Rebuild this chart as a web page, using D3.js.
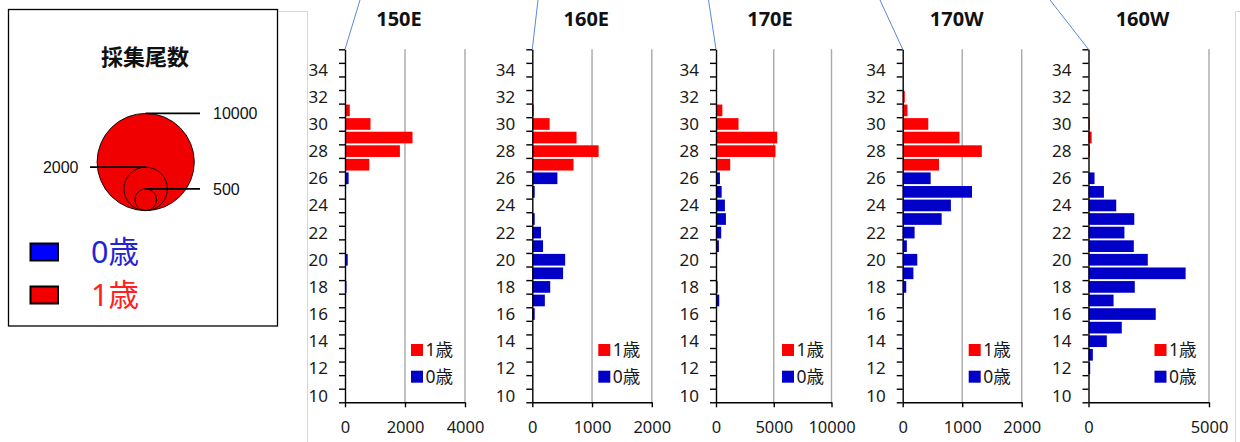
<!DOCTYPE html>
<html>
<head>
<meta charset="utf-8">
<script src="https://cdn.jsdelivr.net/npm/d3@7"></script>
<style>
  html, body { margin: 0; padding: 0; background: #fff; }
  svg { display: block; }
</style>
</head>
<body>
<svg id="chart" width="1240" height="442"></svg>
<script>
// Latitude classes (degrees N), bottom to top
const latitudes = [10,11,12,13,14,15,16,17,18,19,20,21,22,23,24,25,26,27,28,29,30,31,32,33,34,35];
const latitudeLabels = [10,12,14,16,18,20,22,24,26,28,30,32,34];

// Panel titles (longitude lines)
const panelNames = ['150E', '160E', '170E', '170W', '160W'];

// Catch counts per latitude class: age 0 and age 1
const age0_150E = [0,0,0,0,20,20,20,20,50,15,90,15,20,0,0,0,120,0,0,0,0,0,0,0,0,0];
const age1_150E = [0,0,0,0,0,0,0,0,0,0,0,0,0,0,0,0,0,810,1830,2250,850,160,0,0,0,0];

const age0_160E = [0,0,0,0,0,0,40,210,300,515,550,180,145,40,0,40,420,0,0,0,0,0,0,0,0,0];
const age1_160E = [0,0,0,0,0,0,0,0,0,0,0,0,0,0,0,0,0,690,1110,740,290,25,10,0,0,0];

const age0_170E = [0,0,0,0,0,60,60,280,140,60,60,250,450,860,770,490,340,0,0,0,0,0,0,0,0,0];
const age1_170E = [0,0,0,0,0,0,0,0,0,0,0,0,0,0,0,0,0,1230,5150,5300,1950,550,80,0,0,0];

const age0_170W = [0,0,0,10,10,10,0,10,60,180,245,70,200,655,810,1165,470,0,0,0,0,0,0,0,0,0];
const age1_170W = [0,0,0,0,0,0,0,0,0,0,0,0,0,0,0,0,0,610,1330,955,430,80,35,0,0,0];

const age0_160W = [0,0,70,180,760,1380,2790,1040,1920,4030,2460,1880,1490,1900,1150,640,250,0,0,0,0,0,0,0,0,0];
const age1_160W = [0,0,0,0,0,0,0,0,0,0,0,0,0,0,0,0,0,0,55,130,50,0,0,0,0,0];

// Count-axis tick values per panel
const ticks_150E = [0, 2000, 4000];
const ticks_160E = [0, 1000, 2000];
const ticks_170E = [0, 5000, 10000];
const ticks_170W = [0, 1000, 2000];
const ticks_160W = [0, 5000];

// Bubble-size legend values
const sizeValues = [10000, 2000, 500];
// Age classes
const ageNames = ['0歳', '1歳'];

const age0Series = [age0_150E, age0_160E, age0_170E, age0_170W, age0_160W];
const age1Series = [age1_150E, age1_160E, age1_170E, age1_170W, age1_160W];
const tickSeries = [ticks_150E, ticks_160E, ticks_170E, ticks_170W, ticks_160W];

// Layout of the five panels (left edge of plot, width, top end of the connector line)
const panelLayout = [
  { x0: 345.0, w: 120.0, lineTop: 360 },
  { x0: 532.3, w: 119.5, lineTop: 538 },
  { x0: 716.0, w: 115.5, lineTop: 708.5 },
  { x0: 902.7, w: 119.0, lineTop: 880 },
  { x0: 1088.5, w: 120.5, lineTop: 1050 }
];

const RED = '#ff0000';
const BLUE = '#0000c8';
const numFont = "'Noto Sans', 'Noto Sans CJK JP', sans-serif";
const cjkFont = "'Noto Sans CJK JP', sans-serif";

const svg = d3.select('#chart');
svg.append('rect').attr('width', 1240).attr('height', 442).attr('fill', '#fff');

// Light frame of the chart area
const frame = svg.append('g').attr('fill', 'none').attr('stroke', '#d6d6d6').attr('stroke-width', 1);
frame.append('path').attr('d', 'M278,11.5H307.5V442');
frame.append('path').attr('d', 'M1235.5,442V11.5H1240');

// ---------- Size / colour legend box ----------
const lg = svg.append('g');
lg.append('rect')
  .attr('x', 8.5).attr('y', 9.5).attr('width', 269).attr('height', 316.5)
  .attr('fill', '#fff').attr('stroke', '#000').attr('stroke-width', 1.3);

lg.append('text')
  .attr('x', 145).attr('y', 65)
  .attr('text-anchor', 'middle')
  .attr('font-family', cjkFont).attr('font-weight', 'bold').attr('font-size', 22)
  .attr('fill', '#111')
  .text('採集尾数');

const rScale = d3.scaleSqrt().domain([0, d3.max(sizeValues)]).range([0, 48.6]);
const cx = 145.7, cBottom = 210.6;
const leaderSide = ['right', 'left', 'right'];

lg.selectAll('circle.size')
  .data(sizeValues)
  .join('circle')
  .attr('class', 'size')
  .attr('cx', cx)
  .attr('cy', d => cBottom - rScale(d))
  .attr('r', d => rScale(d))
  .attr('fill', (d, i) => i === 0 ? '#f00000' : 'none')
  .attr('stroke', '#000')
  .attr('stroke-width', 0.9);

sizeValues.forEach((v, i) => {
  const yTop = cBottom - 2 * rScale(v);
  const right = leaderSide[i] === 'right';
  lg.append('line')
    .attr('x1', right ? cx : 90).attr('x2', right ? 200 : cx)
    .attr('y1', yTop).attr('y2', yTop)
    .attr('stroke', '#000').attr('stroke-width', 1.6);
  lg.append('text')
    .attr('x', right ? 213 : 78.5)
    .attr('y', yTop + 5.8)
    .attr('text-anchor', right ? 'start' : 'end')
    .attr('font-family', "'Liberation Sans', Arial, sans-serif")
    .attr('font-size', 16)
    .attr('fill', '#111')
    .text(v);
});

const ageLegend = [
  { name: ageNames[0], fill: '#0000ff', text: '#2323d2', y: 243.5 },
  { name: ageNames[1], fill: '#f20000', text: '#ff2020', y: 286.5 }
];
ageLegend.forEach(a => {
  lg.append('rect')
    .attr('x', 30.5).attr('y', a.y).attr('width', 27.5).attr('height', 17)
    .attr('fill', a.fill).attr('stroke', '#000').attr('stroke-width', 2);
  lg.append('text')
    .attr('x', 91).attr('y', a.y + 8.5 + 10.9)
    .attr('font-family', numFont).attr('font-size', 30.5)
    .attr('fill', a.text)
    .text(a.name);
});

// ---------- Latitude histograms ----------
const yTop = 49.3, yBottom = 402.3;
// Class c occupies the interval [c, c+1] on this scale
const y = d3.scaleLinear()
  .domain([latitudes[0], latitudes[latitudes.length - 1] + 1])
  .range([yBottom, yTop]);
const step = y(latitudes[0]) - y(latitudes[0] + 1);
const barPad = 0.95;

panelNames.forEach((name, i) => {
  const L = panelLayout[i];
  const ticks = tickSeries[i];
  const g = svg.append('g').attr('transform', `translate(${L.x0},0)`);
  const x = d3.scaleLinear().domain([0, d3.max(ticks)]).range([0, L.w]);

  // connector line toward the map above
  g.append('line')
    .attr('x1', 0).attr('y1', yTop)
    .attr('x2', L.lineTop - L.x0).attr('y2', 0)
    .attr('stroke', '#5b87d6').attr('stroke-width', 1);

  // vertical gridlines
  g.selectAll('line.grid')
    .data(ticks.filter(t => t > 0))
    .join('line')
    .attr('class', 'grid')
    .attr('x1', d => x(d)).attr('x2', d => x(d))
    .attr('y1', yTop).attr('y2', yBottom)
    .attr('stroke', '#a8a8a8').attr('stroke-width', 1.4);

  // stacked bars
  const rows = latitudes.map((lat, k) => ({ lat, age0: age0Series[i][k], age1: age1Series[i][k] }));
  const stacked = d3.stack().keys(['age0', 'age1'])(rows);
  const colors = [BLUE, RED];
  stacked.forEach((layer, s) => {
    g.append('g').attr('fill', colors[s])
      .selectAll('rect')
      .data(layer.filter(d => d[1] - d[0] > 0))
      .join('rect')
      .attr('x', d => x(d[0]))
      .attr('width', d => x(d[1]) - x(d[0]))
      .attr('y', d => y(d.data.lat + 1) + barPad)
      .attr('height', step - 2 * barPad);
  });

  // latitude axis: tick marks on class boundaries
  const yAxis = g.append('g')
    .call(d3.axisLeft(y)
      .tickValues(d3.range(latitudes[0], latitudes[latitudes.length - 1] + 2))
      .tickFormat('')
      .tickSize(6)
      .tickSizeOuter(0));
  yAxis.selectAll('path, line').attr('stroke', '#000').attr('stroke-width', 1.4);

  // latitude labels centred on their classes
  g.selectAll('text.lat')
    .data(latitudeLabels)
    .join('text')
    .attr('class', 'lat')
    .attr('x', -17)
    .attr('y', d => y(d + 0.5) + 6)
    .attr('text-anchor', 'end')
    .attr('font-family', numFont).attr('font-size', 17)
    .attr('fill', '#1a1a1a')
    .text(d => d);

  // count axis
  const xAxis = g.append('g')
    .attr('transform', `translate(0,${yBottom})`)
    .call(d3.axisBottom(x).tickValues(ticks).tickFormat(d3.format('d')).tickSize(5).tickSizeOuter(0).tickPadding(13.5));
  xAxis.selectAll('path, line').attr('stroke', '#000').attr('stroke-width', 1.4);
  xAxis.selectAll('text')
    .attr('font-family', numFont).attr('font-size', 16.5).attr('fill', '#1a1a1a');

  // panel title
  g.append('text')
    .attr('x', 54).attr('y', 25.5)
    .attr('text-anchor', 'middle')
    .attr('font-family', numFont).attr('font-weight', 'bold').attr('font-size', 20)
    .attr('fill', '#111')
    .text(name);

  // panel legend (1歳 above 0歳)
  const legendRows = [
    { label: ageNames[1], color: RED, cy: 350 },
    { label: ageNames[0], color: BLUE, cy: 376.7 }
  ];
  legendRows.forEach(r => {
    g.append('rect')
      .attr('x', 66).attr('y', r.cy - 6).attr('width', 12).attr('height', 12)
      .attr('fill', r.color);
    g.append('text')
      .attr('x', 80.5).attr('y', r.cy + 6.3)
      .attr('font-family', numFont).attr('font-size', 17.5)
      .attr('fill', '#1a1a1a')
      .text(r.label);
  });
});
</script>
</body>
</html>
